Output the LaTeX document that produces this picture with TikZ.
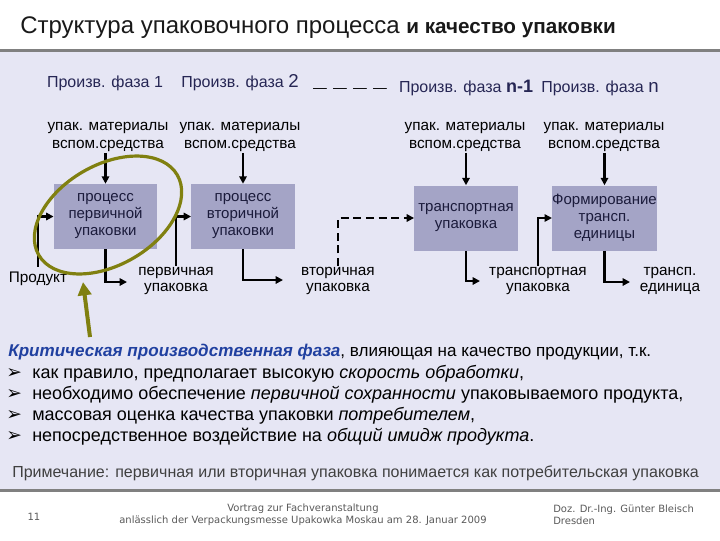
\documentclass[tikz,border=0pt]{standalone}
\usepackage{fontspec}
\setmainfont{Liberation Sans}
\newfontfamily\dejavu{DejaVu Sans}
\usetikzlibrary{arrows.meta}

\definecolor{slidebg}{RGB}{230,230,244}
\definecolor{boxfill}{RGB}{164,164,198}
\definecolor{rulegray}{RGB}{128,128,128}
\definecolor{phasecol}{RGB}{38,38,84}
\definecolor{ringcol}{RGB}{128,128,16}
\definecolor{critblue}{RGB}{32,64,160}
\definecolor{footgray}{RGB}{90,90,90}

\tikzset{
  procbox/.style={fill=boxfill, minimum width=77.5pt, minimum height=48.75pt, inner sep=0pt, align=center, text=phasecol!70!black, font=\fontsize{11.25}{12.75}\selectfont},
  phase/.style={text=phasecol, inner sep=0.75pt, font=\fontsize{12}{14}\selectfont},
  matlabel/.style={align=center, inner sep=0.75pt, font=\fontsize{11.5}{13.5}\selectfont},
  outlabel/.style={align=center, inner sep=0.75pt, font=\fontsize{11.5}{12}\selectfont},
  flow/.style={line width=1.9pt, -{Triangle[length=5.5pt,width=5.5pt]}},
  flowdash/.style={flow, dash pattern=on 6pt off 3.5pt},
  bulletline/.style={anchor=west, inner sep=0pt, font=\fontsize{13.5}{15}\selectfont},
  bulletmark/.style={anchor=west, inner sep=0pt, font=\dejavu\fontsize{14}{15}\selectfont},
  footnode/.style={inner sep=0pt, text=footgray, font=\dejavu\fontsize{7.5}{9}\selectfont},
}

\begin{document}
\begin{tikzpicture}[x=0.75pt,y=0.75pt,yscale=-1,xscale=1]
\useasboundingbox (0,0) rectangle (720,540);

%Shape: Rectangle (page and slide area)
\fill[white] (0,0) rectangle (720,540);
\fill[slidebg] (0,50) rectangle (720,490);
%Straight Lines
\draw[rulegray, line width=2.25pt] (0,50) -- (720,50);
\draw[rulegray, line width=2.25pt] (0,490) -- (720,490);

% Text Node
\node[anchor=west, inner sep=0pt, text=black!90] (title) at (20,28) {\fontsize{18}{20}\selectfont Структура упаковочного процесса \fontsize{15.5}{20}\selectfont\bfseries и качество упаковки};

% Text Node
\node[phase] (ph1) at (105,83) {Произв. фаза 1};
% Text Node
\node[phase] (ph2) at (240,83) {Произв. фаза {\fontsize{14}{14}\selectfont 2}};
% Text Node
\node[phase, text=black, font=\fontsize{18}{18}\selectfont\bfseries] (phgap) at (350,88) {\_ \_ \_ \_};
% Text Node
\node[phase] (phprev) at (466,88) {Произв. фаза {\fontsize{13.5}{14}\selectfont\bfseries n-1}};
% Text Node
\node[phase] (phlast) at (600,88) {Произв. фаза {\fontsize{14}{14}\selectfont n}};

% Text Node
\node[matlabel] (mat1) at (108,137) {упак. материалы\\вспом.средства};
% Text Node
\node[matlabel] (mat2) at (240,137) {упак. материалы\\вспом.средства};
% Text Node
\node[matlabel] (mat3) at (465,137) {упак. материалы\\вспом.средства};
% Text Node
\node[matlabel] (mat4) at (604,137) {упак. материалы\\вспом.средства};

%Shape: Rectangle
\node[procbox] (box1) at (105.5,216.5) {процесс\\первичной\\упаковки};
%Shape: Rectangle
\node[procbox] (box2) at (243,216.5) {процесс\\вторичной\\упаковки};
%Shape: Rectangle
\node[procbox] (box3) at (466,218) {транспортная\\упаковка};
%Shape: Rectangle
\node[procbox] (box4) at (604.5,218) {Формирование\\трансп.\\единицы};

% Text Node
\node[outlabel] (prod) at (38,279) {Продукт};
% Text Node
\node[outlabel] (prim) at (176,281) {первичная\\упаковка};
% Text Node
\node[outlabel] (sec) at (338,281) {вторичная\\упаковка};
% Text Node
\node[outlabel] (trans) at (538,281) {транспортная\\упаковка};
% Text Node
\node[outlabel] (unit) at (670,281) {трансп.\\единица};

\coordinate (primend) at (127,282);
\coordinate (secend) at (283,280);
\coordinate (transend) at (480,281);
\coordinate (unitend) at (630,282);

%Straight Lines
\draw[flow] (box1.north |- mat1.south) -- (box1.north);
\draw[flow] (box2.north |- mat2.south) -- (box2.north);
\draw[flow] (box3.north |- mat3.south) -- (box3.north);
\draw[flow] (box4.north |- mat4.south) -- (box4.north);
%Straight Lines
\draw[flow] ([yshift=-3pt]prod.north) |- (box1.west);
\draw[flow] (box1.south) |- (primend);
\draw[flow] (prim.north) |- (box2.west);
\draw[flow] (box2.south) |- (secend);
\draw[flowdash] (sec.north) |- (box3.west);
\draw[flow] (box3.south) |- (transend);
\draw[flow] (trans.north) |- (box4.west);
\draw[flow] (box4.south) |- (unitend);

%Shape: Ellipse
\draw[ringcol, line width=2.4pt] (108,215) circle [x radius=80, y radius=50, rotate=-30];
%Straight Lines
\coordinate (crittail) at (90,337);
\coordinate (crittip) at (83,282);
\draw[ringcol, line width=3pt, -{Triangle[length=10pt,width=10pt]}] (crittail) -- (crittip);

% Text Node
\node[bulletline, font=\fontsize{12.8}{15}\selectfont] (crit) at (8,352) {\textcolor{critblue}{\bfseries\itshape Критическая производственная фаза}, влияющая на качество продукции, т.к.};
% Text Node
\node[bulletmark] (mark1) at (6,374) {➢};
\node[bulletline] (item1) at (32,374) {как правило, предполагает высокую \textit{скорость обработки},};
% Text Node
\node[bulletmark] (mark2) at (6,395) {➢};
\node[bulletline] (item2) at (32,395) {необходимо обеспечение \textit{первичной сохранности} упаковываемого продукта,};
% Text Node
\node[bulletmark] (mark3) at (6,416) {➢};
\node[bulletline] (item3) at (32,416) {массовая оценка качества упаковки \textit{потребителем},};
% Text Node
\node[bulletmark] (mark4) at (6,437) {➢};
\node[bulletline] (item4) at (32,437) {непосредственное воздействие на \textit{общий имидж продукта}.};

% Text Node
\node[anchor=west, inner sep=0pt, text=black!75, font=\fontsize{12}{14}\selectfont] (note) at (12,473) {Примечание: первичная или вторичная упаковка понимается как потребительская упаковка};

% Text Node
\node[footnode] (pageno) at (34,517) {11};
% Text Node
\node[footnode, align=center] (venue) at (303,515) {Vortrag zur Fachveranstaltung\\anlässlich der Verpackungsmesse Upakowka Moskau am 28. Januar 2009};
% Text Node
\node[footnode, align=left, anchor=west] (author) at (553,515) {Doz. Dr.-Ing. Günter Bleisch\\Dresden};

\end{tikzpicture}
\end{document}
